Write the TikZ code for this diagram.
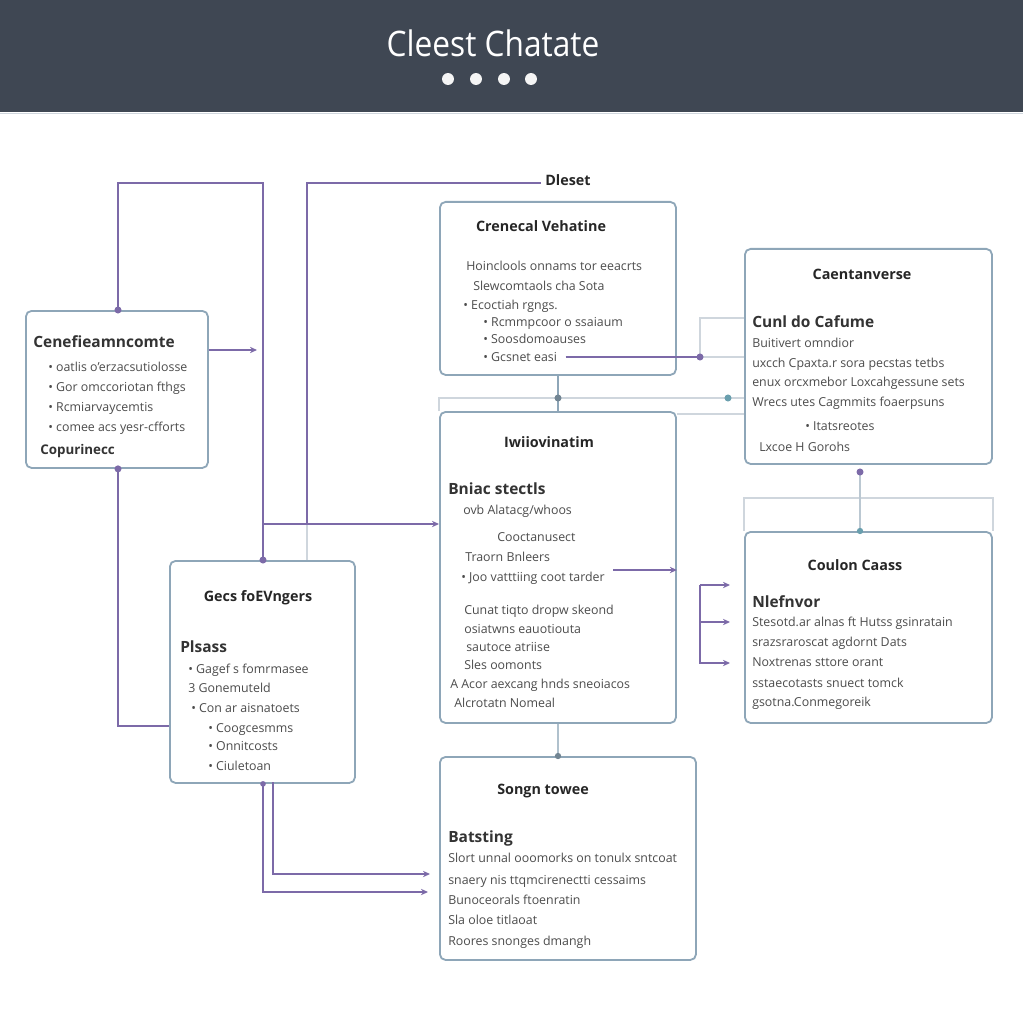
\documentclass[tikz,border=0pt]{standalone}
\usepackage{fontspec}
\setmainfont{Open Sans}
\usetikzlibrary{arrows.meta}
\usetikzlibrary{positioning}

\definecolor{headbg}{HTML}{3F4753}
\definecolor{boxline}{HTML}{8EA6B8}
\definecolor{wirec}{HTML}{7C6AA8}
\definecolor{faint}{HTML}{CFD6DD}
\definecolor{tealdot}{HTML}{6A9FAE}
\definecolor{bodytext}{HTML}{4C4C4C}

\tikzset{
  panel/.style = {draw=boxline, line width=1.3pt, rounded corners=4pt, fill=white, anchor=north west, inner sep=0pt},
  head/.style = {font=\bfseries\fontsize{10.2}{12}\selectfont, text=black!85, anchor=base},
  sub/.style = {font=\bfseries\fontsize{11}{13}\selectfont, text=black!80, anchor=base west, inner sep=0pt},
  txt/.style = {font=\fontsize{8.8}{10}\selectfont, text=bodytext, anchor=base west, inner sep=0pt},
  wire/.style = {draw=wirec, line width=1.2pt},
  thin/.style = {draw=faint, line width=1pt},
  dot/.style = {circle, fill=wirec, inner sep=0pt, minimum size=5pt},
  tdot/.style = {dot, fill=tealdot},
  tip/.style = {-{Stealth[length=5pt,width=4.5pt]}},
}

\begin{document}
\begin{tikzpicture}[x=0.025cm, y=-0.025cm]
    \useasboundingbox (0,0) rectangle (1023,1023);

    % header band
    \fill[headbg] (0,0) rectangle (1023,112);
    \draw[faint] (0,113) -- (1023,113);
    \node[text=white, font=\fontsize{25}{27}\selectfont] (title) at (493,43) {\scalebox{0.9}[1]{Cleest Chatate}};
    \foreach \x [count=\i] in {448,476,504,531}
        \node[circle, fill=white!92!gray, inner sep=0pt, minimum size=8.5pt] (hd-\i) at (\x,79) {};

    % panels
    \node[panel, minimum width=4.55cm, minimum height=3.925cm] (A) at (25,310) {};
    \node[panel, minimum width=5.9cm, minimum height=4.325cm] (B) at (439,201) {};
    \node[panel, minimum width=6.175cm, minimum height=5.375cm] (C) at (744,248) {};
    \node[panel, minimum width=5.9cm, minimum height=7.775cm] (D) at (439,411) {};
    \node[panel, minimum width=6.175cm, minimum height=4.775cm] (E) at (744,531) {};
    \node[panel, minimum width=4.625cm, minimum height=5.55cm] (F) at (169,560) {};
    \node[panel, minimum width=6.4cm, minimum height=5.075cm] (G) at (439,756) {};

    % panel A
    \node[sub] (A-h) at (33,347) {Cenefieamncomte};
    \foreach \x/\y/\t [count=\i] in {48/371/{• oatlis o'erzacsutiolosse}, 48/391/{• Gor omccoriotan fthgs},
        48/411/{• Rcmiarvaycemtis}, 48/431/{• comee acs yesr-cfforts}}
        \node[txt] (A-\i) at (\x,\y) {\t};
    \node[sub, font=\bfseries\fontsize{9.5}{11}\selectfont] (A-f) at (40,454) {Copurinecc};

    % panel B
    \node[head] (B-h) at (541,232) {Crenecal Vehatine};
    \foreach \x/\y/\t [count=\i] in {466/271/{Hoinclools onnams tor eeacrts}, 473/290/{Slewcomtaols cha Sota},
        463/309/{• Ecoctiah rgngs.}, 483/326/{• Rcmmpcoor o ssaiaum},
        483/343/{• Soosdomoauses}, 483/361/{• Gcsnet easi}}
        \node[txt] (B-\i) at (\x,\y) {\t};

    % panel C
    \node[head] (C-h) at (862,280) {Caentanverse};
    \node[sub] (C-s) at (752,327) {Cunl do Cafume};
    \foreach \x/\y/\t [count=\i] in {752/347/{Buitivert omndior}, 752/367/{uxcch Cpaxta.r sora pecstas tetbs},
        752/386/{enux orcxmebor Loxcahgessune sets}, 752/406/{Wrecs utes Cagmmits foaerpsuns},
        805/430/{• Itatsreotes}, 759/451/{Lxcoe H Gorohs}}
        \node[txt] (C-\i) at (\x,\y) {\t};

    % panel D
    \node[head] (D-h) at (549,447) {Iwiiovinatim};
    \node[sub] (D-s) at (448,494) {Bniac stectls};
    \foreach \x/\y/\t [count=\i] in {463/514/{ovb Alatacg/whoos}, 497/541/{Cooctanusect},
        465/561/{Traorn Bnleers}, 461/581/{• Joo vatttiing coot tarder},
        464/614/{Cunat tiqto dropw skeond}, 464/633/{osiatwns eauotiouta},
        466/651/{sautoce atriise}, 464/669/{Sles oomonts},
        450/688/{A Acor aexcang hnds sneoiacos}, 454/707/{Alcrotatn Nomeal}}
        \node[txt] (D-\i) at (\x,\y) {\t};

    % panel E
    \node[head] (E-h) at (855,570) {Coulon Caass};
    \node[sub] (E-s) at (752,607) {Nlefnvor};
    \foreach \x/\y/\t [count=\i] in {752/626/{Stesotd.ar alnas ft Hutss gsinratain}, 752/646/{srazsraroscat agdornt Dats},
        752/666/{Noxtrenas sttore orant}, 752/687/{sstaecotasts snuect tomck},
        752/706/{gsotna.Conmegoreik}}
        \node[txt] (E-\i) at (\x,\y) {\t};

    % panel F
    \node[head] (F-h) at (258,601) {Gecs foEVngers};
    \node[sub] (F-s) at (180,652) {Plsass};
    \foreach \x/\y/\t [count=\i] in {188/673/{• Gagef s fomrmasee}, 188/692/{3 Gonemuteld},
        191/712/{• Con ar aisnatoets}, 208/732/{• Coogcesmms},
        208/750/{• Onnitcosts}, 208/770/{• Ciuletoan}}
        \node[txt] (F-\i) at (\x,\y) {\t};

    % panel G
    \node[head] (G-h) at (543,794) {Songn towee};
    \node[sub] (G-s) at (448,842) {Batsting};
    \foreach \x/\y/\t [count=\i] in {448/862/{Slort unnal ooomorks on tonulx sntcoat}, 448/884/{snaery nis ttqmcirenectti cessaims},
        448/904/{Bunoceorals ftoenratin}, 448/924/{Sla oloe titlaoat},
        448/945/{Roores snonges dmangh}}
        \node[txt] (G-\i) at (\x,\y) {\t};

    % left wiring
    \coordinate (k1) at (263,183);
    \coordinate (k2) at (307,183);
    \coordinate (k3) at (263,524);
    \coordinate (a-out) at (257,350);
    \coordinate (a-low) at (118,726);
    \node[font=\bfseries\fontsize{10.2}{12}\selectfont, text=black!85, anchor=base west, inner sep=0pt] (dleset) at (545,186) {Dleset};
    \draw[wire] (A.north -| a-low) |- (k1) -- (k1 |- F.north);
    \draw[wire] ([xshift=-3pt]dleset.west |- k2) -- (k2) -- (k2 |- k3);
    \draw[thin] (k2 |- k3) -- (k2 |- F.north);
    \draw[wire, tip] (k3) -- (D.west |- k3);
    \draw[wire, tip] (A.east |- a-out) -- (a-out);
    \draw[wire] (A.south -| a-low) -- (a-low) -- (F.west |- a-low);
    \node[dot] (d-a1) at (A.north -| a-low) {};
    \node[dot] (d-a2) at (A.south -| a-low) {};
    \node[dot] (d-f1) at (k1 |- F.north) {};

    % F down to G
    \coordinate (g1) at (428,892);
    \coordinate (g2) at (430,874);
    \coordinate (f-b2) at (273,782);
    \draw[wire, tip] (F.south -| k1) |- (g1);
    \draw[wire, tip] (f-b2) |- (g2);
    \node[dot, minimum size=4pt] (d-f2) at (F.south -| k1) {};

    % B to C and the bus to D
    \coordinate (k4) at (700,357);
    \coordinate (k5) at (558,398);
    \draw[wire, line width=0.9pt] ([xshift=6pt]B-6.east |- k4) -- (k4);
    \draw[thin] (k4) -- (C.west |- k4);
    \draw[thin] (k4) |- (C.west |- 0,318);
    \node[dot] (d-b) at (k4) {};
    \draw[thin] (D.north west) |- (k5) -- (k5 -| C.west);
    \draw[thin] (D.north east |- 0,414) -- (C.west |- 0,414);
    \draw[draw=boxline, line width=1.4pt] (B.south -| k5) -- (D.north -| k5);
    \node[tdot, fill=boxline!80!black] (d-bus) at (k5) {};
    \node[tdot] (d-c1) at (728,398) {};

    % D arrow out
    \draw[wire, tip] ([xshift=6pt]D-4.east |- 0,570) -- (D.east |- 0,570);

    % C down to E
    \coordinate (k6) at (860,498);
    \draw[thin] (E.north west) |- (k6) -| (E.north east);
    \draw[draw=faint!70!boxline, line width=1pt] (k6 |- 0,472) -- (k6 |- E.north);
    \node[dot] (d-c2) at (k6 |- 0,472) {};
    \node[tdot, minimum size=4.5pt] (d-e) at (k6 |- E.north) {};

    % bracket into E
    \coordinate (e0) at (700,585);
    \coordinate (e1) at (730,585);
    \coordinate (e2) at (730,622);
    \coordinate (e3) at (730,663);
    \draw[wire, tip] (e0) -- (e1);
    \draw[wire, tip] (e0 |- e2) -- (e2);
    \draw[wire, tip] (e1 -| e0) |- (e3);

    % D down to G
    \draw[thin, draw=boxline!70] (D.south -| k5) -- (G.north -| k5);
    \node[tdot, fill=boxline!80!black, minimum size=4.5pt] (d-g) at (G.north -| k5) {};
\end{tikzpicture}
\end{document}
